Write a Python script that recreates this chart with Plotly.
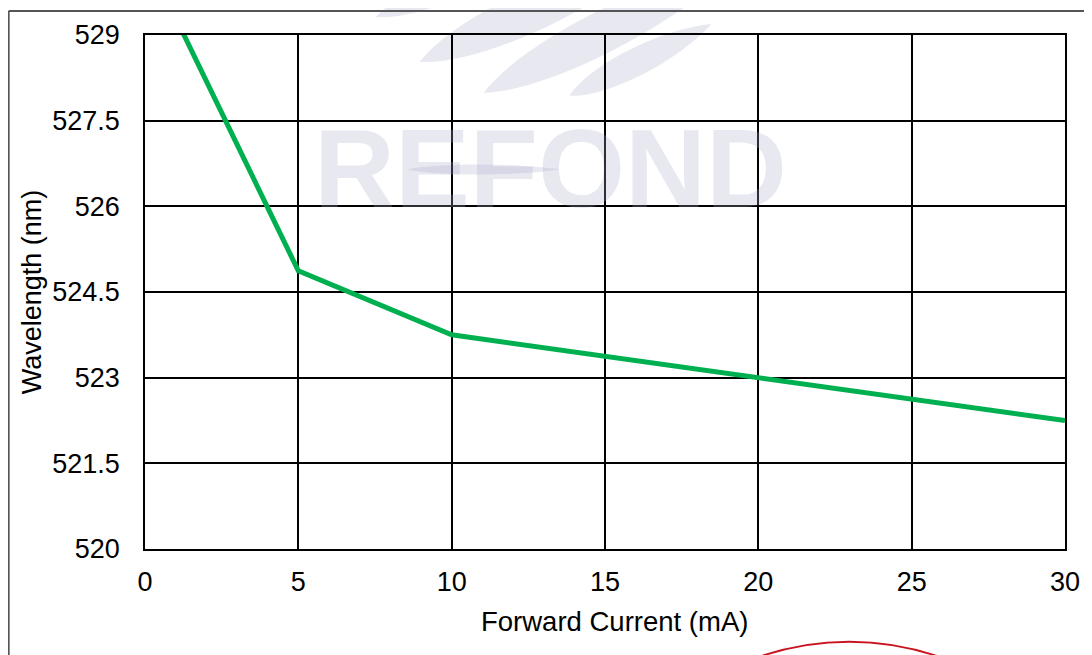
import plotly.graph_objects as go

# ---- data ----
forward_current_ma = [1, 5, 10, 15, 20, 25, 30]
wavelength_nm = [529.3, 524.87, 523.75, 523.38, 523.0, 522.63, 522.25]
x_ticks = [0, 5, 10, 15, 20, 25, 30]
y_ticks = [520, 521.5, 523, 524.5, 526, 527.5, 529]
y_tick_labels = ["520", "521.5", "523", "524.5", "526", "527.5", "529"]

# page is offset by the default 8px body margin
OFF = 8
W, H = 1092 - OFF, 655 - OFF
L, R, T, B = 145 - OFF, 1066 - OFF, 33 - OFF, 549 - OFF


def px(x):  # page pixel -> paper
    return (x - OFF - L) / (R - L)


def py(y):
    return (B - (y - OFF)) / (B - T)


def blade(x1, y1, x2, y2, thick):
    dx, dy = x2 - x1, y2 - y1
    n = (dx * dx + dy * dy) ** 0.5
    k = thick / 2 / 0.75
    nx, ny = -dy / n * k, dx / n * k
    a = (x1 + 0.2 * dx, y1 + 0.2 * dy)
    b = (x1 + 0.7 * dx, y1 + 0.7 * dy)
    return (f"M {px(x1)},{py(y1)} "
            f"C {px(a[0]+nx)},{py(a[1]+ny)} {px(b[0]+nx)},{py(b[1]+ny)} {px(x2)},{py(y2)} "
            f"C {px(b[0]-nx)},{py(b[1]-ny)} {px(a[0]-nx)},{py(a[1]-ny)} {px(x1)},{py(y1)} Z")


fig = go.Figure()
fig.add_trace(go.Scatter(
    x=forward_current_ma, y=wavelength_nm, mode="lines",
    line=dict(color="#00b050", width=5), showlegend=False,
))

font = dict(family="Liberation Sans, Arial, sans-serif", size=27, color="black")
wm = "rgb(232,232,241)"

shapes = []
for seg in [(376, 15, 540, -50, 26), (420, 60, 660, -50, 42),
            (484, 91, 740, -40, 42), (570, 94, 712, 22, 28)]:
    shapes.append(dict(type="path", xref="paper", yref="paper", layer="below",
                       path=blade(*seg), fillcolor=wm, line=dict(width=0)))
shapes.append(dict(type="path", xref="paper", yref="paper", layer="below",
                   path=blade(408, 168, 560, 168, 10), fillcolor=wm, line=dict(width=0)))
# outer frame
shapes.append(dict(type="line", xref="paper", yref="paper", x0=px(8.5), x1=px(1100),
                   y0=py(9), y1=py(9), line=dict(color="#555555", width=2)))
shapes.append(dict(type="line", xref="paper", yref="paper", x0=px(8.5), x1=px(8.5),
                   y0=py(9), y1=py(700), line=dict(color="#555555", width=2)))
# red stamp arc
cx, cy, r = 850, 916, 274
shapes.append(dict(type="circle", xref="paper", yref="paper",
                   x0=px(cx - r), x1=px(cx + r), y0=py(cy + r), y1=py(cy - r),
                   line=dict(color="#c8141e", width=2)))

fig.update_layout(
    width=W, height=H,
    margin=dict(l=L, r=W - R, t=T, b=H - B),
    paper_bgcolor="white", plot_bgcolor="rgba(0,0,0,0)",
    font=font, shapes=shapes,
    annotations=[
        dict(text="<b>REFOND</b>", xref="paper", yref="paper",
             x=px(551), y=py(167), xanchor="center", yanchor="middle",
             showarrow=False,
             font=dict(family="Liberation Sans, Arial, sans-serif", size=112,
                       color="rgba(170,170,205,0.27)")),
        dict(text="Forward Current (mA)", xref="paper", yref="paper",
             x=px(615), y=py(622), xanchor="center", yanchor="middle",
             showarrow=False, font=dict(font, size=27.5)),
    ],
    xaxis=dict(range=[0, 30], tickvals=x_ticks, showgrid=True, gridcolor="black",
               gridwidth=1.5, showline=True, linecolor="black", linewidth=1.5,
               mirror=True, zeroline=False, ticks="", ticklabelstandoff=8),
    yaxis=dict(range=[520, 529], tickvals=y_ticks, ticktext=y_tick_labels,
               showgrid=True, gridcolor="black", gridwidth=1.5, showline=True,
               linecolor="black", linewidth=1.5, mirror=True, zeroline=False,
               ticks="", ticklabelstandoff=18,
               title=dict(text="Wavelength (nm)", font=font, standoff=3)),
)

fig.write_html("out.html")
